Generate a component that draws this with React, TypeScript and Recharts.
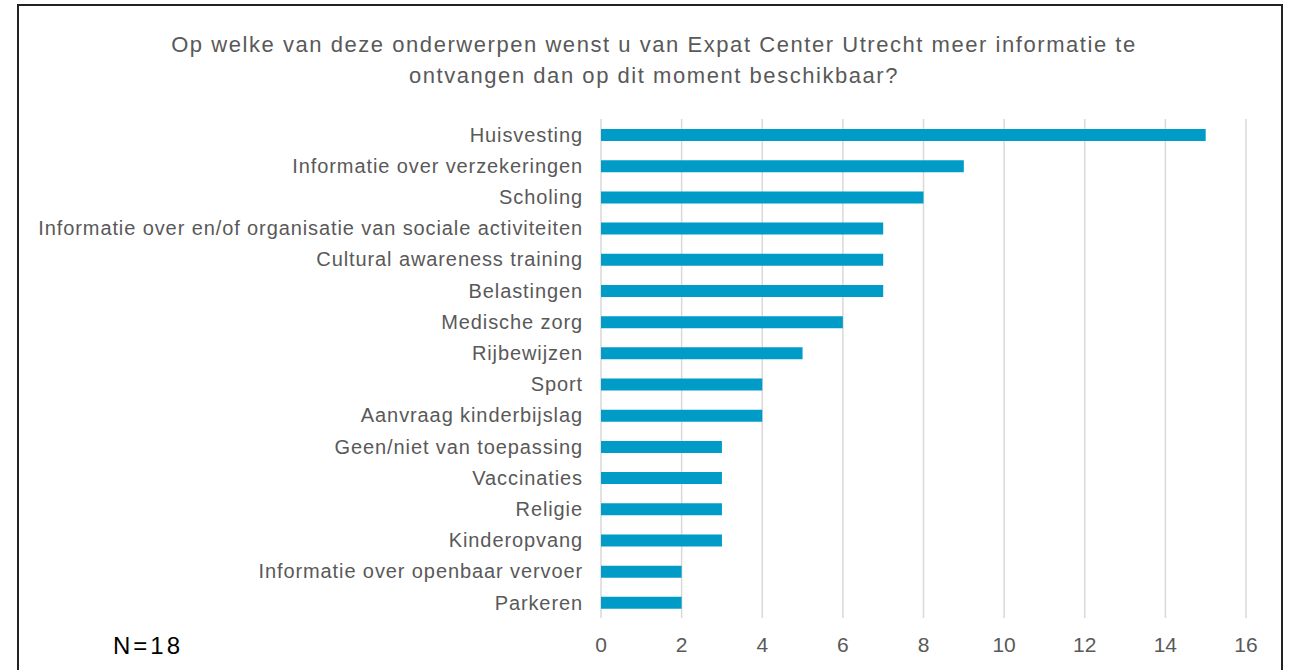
import { BarChart, Bar, XAxis, YAxis, CartesianGrid } from "recharts";

const topics = [
  "Huisvesting",
  "Informatie over verzekeringen",
  "Scholing",
  "Informatie over en/of organisatie van sociale activiteiten",
  "Cultural awareness training",
  "Belastingen",
  "Medische zorg",
  "Rijbewijzen",
  "Sport",
  "Aanvraag kinderbijslag",
  "Geen/niet van toepassing",
  "Vaccinaties",
  "Religie",
  "Kinderopvang",
  "Informatie over openbaar vervoer",
  "Parkeren",
];
const counts = [15, 9, 8, 7, 7, 7, 6, 5, 4, 4, 3, 3, 3, 3, 2, 2];
const xTicks = [0, 2, 4, 6, 8, 10, 12, 14, 16];

const chartData = topics.map((name, i) => ({ name, count: counts[i] }));

const font = "'Liberation Sans', Arial, sans-serif";

export default function App() {
  return (
    <div
      style={{
        position: "absolute",
        left: 0,
        top: 0,
        width: 1296,
        height: 670,
        overflow: "hidden",
        background: "#fff",
        fontFamily: font,
      }}
    >
      <div
        style={{
          position: "absolute",
          left: 17,
          top: 4,
          width: 1266,
          height: 720,
          border: "2px solid #222",
          boxSizing: "border-box",
        }}
      />
      <div
        style={{
          position: "absolute",
          left: 0,
          top: 29,
          width: 1296,
          textAlign: "center",
          fontSize: 22,
          lineHeight: "31px",
          letterSpacing: 1.55,
          color: "#595959",
          paddingLeft: 12,
          boxSizing: "border-box",
        }}
      >
        Op welke van deze onderwerpen wenst u van Expat Center Utrecht meer informatie te
        <br />
        ontvangen dan op dit moment beschikbaar?
      </div>
      <div
        style={{
          position: "absolute",
          left: 113,
          top: 632,
          fontSize: 24,
          letterSpacing: 3,
          color: "#000",
        }}
      >
        N=18
      </div>
      <div style={{ position: "absolute", left: 0, top: 0 }}>
        <BarChart
          width={1296}
          height={670}
          data={chartData}
          layout="vertical"
          margin={{ top: 119, right: 50, bottom: 22, left: 0 }}
          barCategoryGap={0}
        >
          <CartesianGrid
            horizontal={false}
            stroke="#d9d9d9"
            strokeWidth={1.5}
          />
          <XAxis
            type="number"
            domain={[0, 16]}
            ticks={xTicks}
            axisLine={false}
            tickLine={false}
            tickSize={0}
            tickMargin={19}
            height={30}
            tick={{ fill: "#595959", fontSize: 21, fontFamily: font }}
          />
          <YAxis
            type="category"
            dataKey="name"
            width={601}
            axisLine={false}
            tickLine={false}
            tickSize={0}
            tickMargin={18}
            interval={0}
            tick={{
              fill: "#595959",
              fontSize: 20,
              fontFamily: font,
              style: { letterSpacing: 0.9 },
            }}
          />
          <Bar dataKey="count" fill="#009cc7" barSize={12} isAnimationActive={false} />
        </BarChart>
      </div>
    </div>
  );
}
